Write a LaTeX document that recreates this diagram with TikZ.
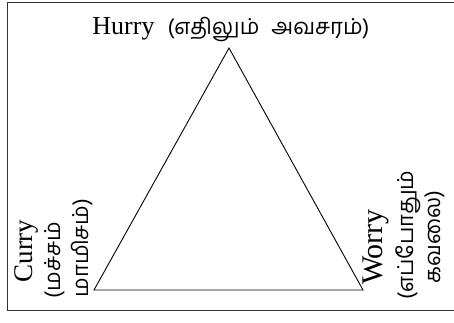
\documentclass[tikz,border=0pt]{standalone}
\usepackage{fontspec}
\setmainfont{Liberation Serif}
\newfontfamily\tamil[Script=Tamil]{Hind Madurai}
\begin{document}
\begin{tikzpicture}[x=1pt,y=-1pt,
  lbl/.style={inner sep=0pt,outer sep=0pt,font=\fontsize{27}{30}\selectfont},
  tlbl/.style={inner sep=0pt,outer sep=0pt,font=\fontsize{22}{26}\selectfont\tamil},
  edge/.style={draw=black,line width=0.9pt},
  frame/.style={draw=black!80,line width=0.9pt}]
\useasboundingbox (0,0) rectangle (454,322);
% frame
\coordinate (f1) at (454,2.5);
\coordinate (f2) at (7.5,2.5);
\coordinate (f3) at (7.5,310);
\coordinate (f4) at (454,310);
\draw[frame] (f1) -- (f2) -- (f3) -- (f4);
% triangle
\coordinate (apex) at (229,48);
\coordinate (bl) at (94,290);
\coordinate (br) at (363,290);
\draw[edge,line join=miter] (apex) -- (bl) -- (br) -- cycle;
% labels
\node[lbl,anchor=base,font=\fontsize{26}{30}\selectfont] (hurry) at (231,34) {Hurry\hspace{13pt}{\tamil\fontsize{22}{26}\selectfont (எதிலும்\hspace{12pt}அவசரம்)}};
\node[lbl,rotate=90,anchor=base] (curry) at (32,251) {Curry};
\node[tlbl,rotate=90,anchor=base] (curry2) at (60,260) {(மச்சம்};
\node[tlbl,rotate=90,anchor=base] (curry3) at (88,248) {மாமிசம்)};
\node[lbl,rotate=90,anchor=base,font=\fontsize{30}{32}\selectfont] (worry) at (382,247) {Worry};
\node[tlbl,rotate=90,anchor=base] (worry2) at (413,235) {(எப்போதும்};
\node[tlbl,rotate=90,anchor=base] (worry3) at (440,237) {கவலை)};
\end{tikzpicture}
\end{document}
